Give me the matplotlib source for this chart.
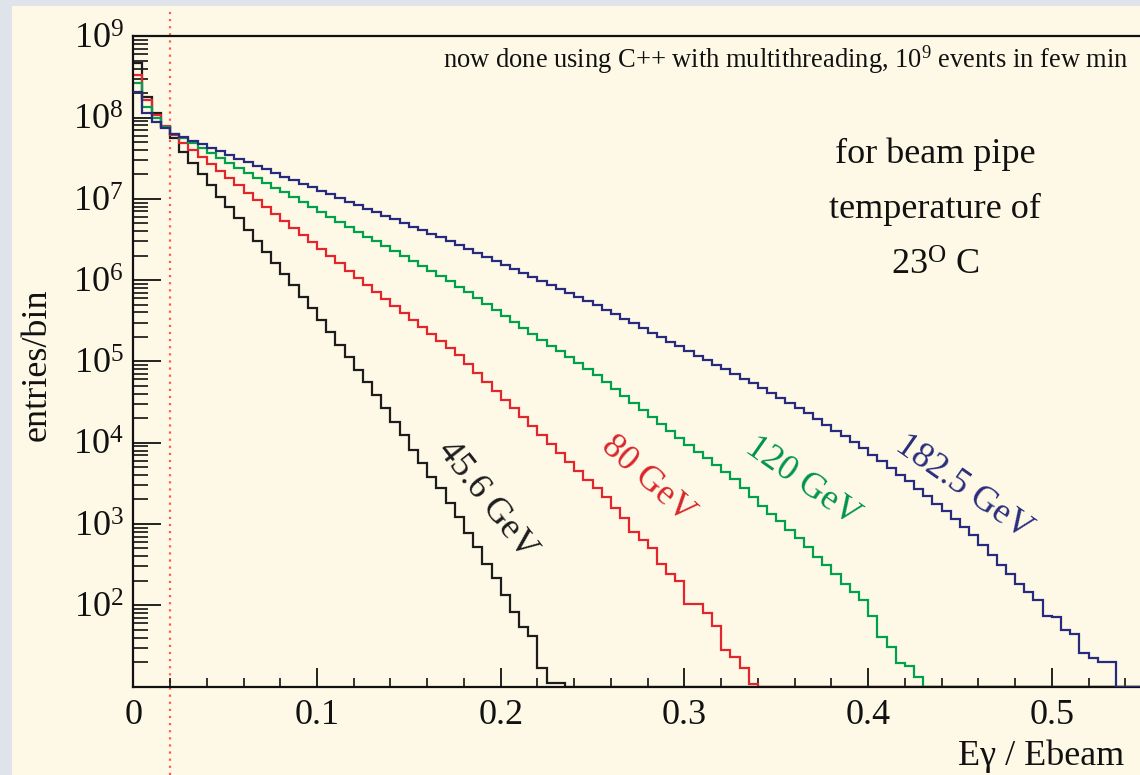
import numpy as np
import matplotlib
matplotlib.use("Agg")
import matplotlib.pyplot as plt
from matplotlib.patches import Rectangle
from matplotlib.ticker import FixedLocator, MultipleLocator, LogLocator, NullFormatter, FixedFormatter

# ---------------- data (log10 of entries per bin, bins of 0.005 starting at 0) -------------
bin_width = 0.005
n_bins = 110
beam_labels = ["45.6 GeV", "80 GeV", "120 GeV", "182.5 GeV"]

log_entries_45 = [8.665, 8.256, 8.055, 7.887, 7.744, 7.579, 7.436, 7.305, 7.169, 7.025,
                  6.895, 6.759, 6.615, 6.484, 6.348, 6.206, 6.074, 5.939, 5.795, 5.652,
                  5.508, 5.360, 5.206, 5.052, 4.892, 4.745, 4.585, 4.421, 4.256, 4.092,
                  3.908, 3.744, 3.579, 3.436, 3.252, 3.087, 2.883, 2.718, 2.513, 2.329,
                  2.123, 1.918, 1.726, 1.619, 1.233, 1.044, 1.044]

log_entries_80 = [8.523, 8.215, 8.031, 7.895, 7.785, 7.683, 7.600, 7.513, 7.426, 7.339,
                  7.251, 7.164, 7.077, 6.990, 6.903, 6.816, 6.729, 6.641, 6.554, 6.467,
                  6.380, 6.293, 6.206, 6.118, 6.031, 5.944, 5.857, 5.770, 5.683, 5.596,
                  5.509, 5.421, 5.334, 5.247, 5.160, 5.077, 4.968, 4.858, 4.749, 4.640,
                  4.530, 4.421, 4.311, 4.202, 4.092, 3.983, 3.874, 3.764, 3.655, 3.545,
                  3.436, 3.333, 3.190, 3.067, 2.902, 2.800, 2.698, 2.513, 2.382, 2.299,
                  2.021, 2.021, 1.905, 1.742, 1.446, 1.364, 1.233, 1.036]

log_entries_120 = [8.421, 8.133, 7.990, 7.883, 7.803, 7.743, 7.682, 7.622, 7.562, 7.501,
                   7.441, 7.380, 7.320, 7.260, 7.200, 7.139, 7.079, 7.019, 6.959, 6.898,
                   6.838, 6.778, 6.717, 6.657, 6.597, 6.536, 6.476, 6.416, 6.355, 6.295,
                   6.235, 6.174, 6.114, 6.054, 5.994, 5.921, 5.848, 5.776, 5.703, 5.630,
                   5.558, 5.485, 5.412, 5.340, 5.267, 5.195, 5.122, 5.049, 4.977, 4.904,
                   4.831, 4.746, 4.660, 4.575, 4.489, 4.404, 4.318, 4.233, 4.148, 4.062,
                   3.977, 3.891, 3.806, 3.720, 3.635, 3.550, 3.440, 3.329, 3.219, 3.120,
                   3.034, 2.923, 2.825, 2.714, 2.591, 2.492, 2.382, 2.259, 2.160, 2.062,
                   1.865, 1.606, 1.483, 1.286, 1.249, 1.114]

log_entries_182 = [8.314, 8.052, 7.948, 7.871, 7.803, 7.759, 7.715, 7.671, 7.627, 7.583,
                   7.539, 7.495, 7.451, 7.407, 7.362, 7.318, 7.274, 7.230, 7.186, 7.142,
                   7.098, 7.054, 7.010, 6.966, 6.922, 6.878, 6.834, 6.790, 6.746, 6.702,
                   6.658, 6.614, 6.570, 6.526, 6.481, 6.432, 6.383, 6.334, 6.284, 6.235,
                   6.186, 6.137, 6.087, 6.038, 5.989, 5.940, 5.890, 5.841, 5.792, 5.743,
                   5.694, 5.637, 5.580, 5.524, 5.467, 5.410, 5.354, 5.297, 5.241, 5.184,
                   5.127, 5.071, 5.014, 4.957, 4.901, 4.844, 4.788, 4.731, 4.667, 4.606,
                   4.544, 4.483, 4.421, 4.363, 4.292, 4.219, 4.148, 4.076, 4.004, 3.932,
                   3.851, 3.770, 3.689, 3.607, 3.526, 3.434, 3.342, 3.249, 3.157, 3.059,
                   2.960, 2.862, 2.739, 2.615, 2.492, 2.390, 2.267, 2.164, 2.070, 1.865,
                   1.856, 1.692, 1.652, 1.406, 1.356, 1.302, 1.302]

x_tick_values = [0, 0.1, 0.2, 0.3, 0.4, 0.5]
x_tick_labels = ["0", "0.1", "0.2", "0.3", "0.4", "0.5"]
y_decades = [1e2, 1e3, 1e4, 1e5, 1e6, 1e7, 1e8, 1e9]
cut_value = 0.02

# ---------------- style ----------------
plt.rcParams["font.family"] = ["Liberation Serif", "DejaVu Serif"]
plt.rcParams["mathtext.fontset"] = "custom"
plt.rcParams["mathtext.rm"] = "Liberation Serif"
plt.rcParams["mathtext.it"] = "Liberation Serif:italic"
plt.rcParams["mathtext.bf"] = "Liberation Serif:bold"
plt.rcParams["mathtext.default"] = "regular"

W, H = 1140, 775
colors = ["#1c1c1c", "#e4262c", "#00a04c", "#272a7e"]
text_colors = ["#1c1c1c", "#d9262b", "#00944a", "#2a2d7c"]
cream = "#fdf9e6"

fig = plt.figure(figsize=(W / 100, H / 100), dpi=100, facecolor="#dfe4ea")
fig.patches.append(Rectangle((12 / W, 0), 1, 769 / H, transform=fig.transFigure,
                             facecolor=cream, edgecolor="none", zorder=-10))

ax_left, ax_right, ax_top, ax_bottom = 133.3, 1143.7, 36.25, 686.5
ax = fig.add_axes([ax_left / W, 1 - ax_bottom / H, (ax_right - ax_left) / W,
                   (ax_bottom - ax_top) / H])
ax.set_zorder(1)
ax.patch.set_visible(False)
ax.set_yscale("log")
ymin, ymax = 10, 1e9
ax.set_xlim(0, n_bins * bin_width)
ax.set_ylim(ymin, ymax)

edges = np.arange(n_bins + 1) * bin_width
series = [log_entries_45, log_entries_80, log_entries_120, log_entries_182]
for i, (logs, col) in enumerate(zip(series, colors)):
    counts = np.zeros(n_bins)
    counts[:len(logs)] = 10 ** np.asarray(logs)
    drawn = np.where(counts > 0, counts, ymin)
    ax.stairs(drawn, edges, baseline=None, color=col, linewidth=1.6,
              zorder=3 if i == 3 else 2)

for sp in ax.spines.values():
    sp.set_linewidth(1.6)
    sp.set_color("#111111")

# y axis
ax.yaxis.set_major_locator(FixedLocator(y_decades))
ax.yaxis.set_minor_locator(LogLocator(base=10, subs=np.arange(2, 10), numticks=30))
ax.yaxis.set_minor_formatter(NullFormatter())
ax.tick_params(axis="y", which="major", direction="in", length=20, width=1.3,
               labelsize=26, pad=7, colors="#111111", left=True, right=False)
ax.tick_params(axis="y", which="minor", direction="in", length=10.5, width=1.2,
               left=True, right=False, colors="#111111")
# x axis
ax.xaxis.set_major_locator(FixedLocator(x_tick_values))
ax.xaxis.set_major_formatter(FixedFormatter(x_tick_labels))
ax.xaxis.set_minor_locator(MultipleLocator(0.02))
ax.tick_params(axis="x", which="major", direction="in", length=14, width=1.3,
               labelsize=26, pad=9, colors="#111111", top=False, bottom=True)
ax.tick_params(axis="x", which="minor", direction="in", length=6.5, width=1.2,
               top=False, bottom=True, colors="#111111")

# cut line
ax.axvline(cut_value, ymin=(ax_bottom - 775) / (ax_bottom - ax_top),
           ymax=(ax_bottom - 8) / (ax_bottom - ax_top), color="#ff5a4e",
           linestyle=(0, (1, 2.2)), linewidth=1.6, clip_on=False, zorder=1)

# labels
fig.text(1124 / W, 1 - 765 / H, "E\u03b3 / Ebeam", ha="right", va="baseline",
         fontsize=26, color="#111111")
fig.text(37 / W, 1 - 365 / H, "entries/bin", rotation=90, ha="center", va="center",
         fontsize=26, color="#111111")
fig.text(1129 / W, 1 - 68 / H,
         "now done using C++ with multithreading, 10$^{9}$ events in few min",
         ha="right", va="baseline", fontsize=19.1, color="#111111")
for txt, yb in zip(["for beam pipe", "temperature of", "23$^{\\mathrm{O}}$ C"],
                   [163, 218, 275]):
    fig.text(935 / W, 1 - yb / H, txt, ha="center", va="baseline", fontsize=26,
             color="#111111")

label_pos = [(487, 500, -52), (648, 480, -42), (803, 482, -35), (964, 487, -35)]
for txt, (px, py, rot), col in zip(beam_labels, label_pos, text_colors):
    fig.text(px / W, 1 - py / H, txt, rotation=rot, rotation_mode="anchor",
             ha="center", va="center", fontsize=26, color=col)

fig.savefig("out.png", dpi=100, facecolor=fig.get_facecolor())
